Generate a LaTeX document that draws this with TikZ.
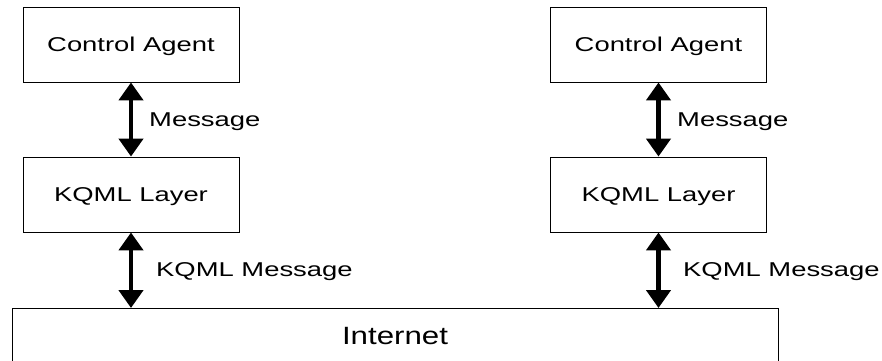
\documentclass[tikz,border=0pt]{standalone}
\usepackage{fontspec}
\usepackage{graphicx}
\setmainfont{Liberation Sans}
\usetikzlibrary{arrows.meta}
\newcommand{\smtxt}[1]{\scalebox{1.37}[1]{\fontsize{20}{21}\selectfont #1}}
\newcommand{\bigtxt}[1]{\scalebox{1.25}[1]{\fontsize{25}{26}\selectfont #1}}
\begin{document}
\begin{tikzpicture}[x=1pt,y=-1pt,
  blk/.style={draw=black, line width=0.9pt, inner sep=0pt, text depth=0pt},
  agentbox/.style={blk, minimum width=216pt, minimum height=75pt},
  lbl/.style={inner sep=0pt, anchor=base west},
  link/.style={line width=4.6pt, {Triangle[width=24pt,length=18pt]}-{Triangle[width=24pt,length=18pt]}}
]
\useasboundingbox (0,0) rectangle (882,360);
\fill[white] (0,0) rectangle (882,360);
% left column
\node[agentbox] (ca1) at (131,44.5) {\smtxt{Control Agent}};
\node[agentbox] (kq1) at (131,194.5) {\smtxt{KQML Layer}};
% right column
\node[agentbox] (ca2) at (658.5,44.5) {\smtxt{Control Agent}};
\node[agentbox] (kq2) at (658.5,194.5) {\smtxt{KQML Layer}};
% internet
\node[blk, minimum width=766pt, minimum height=55pt] (net) at (395,335.5) {\bigtxt{Internet}};
\coordinate (n1) at (131,308);
\coordinate (n2) at (658.5,308);
% connectors
\draw[link] (ca1.south) -- (kq1.north);
\draw[link] (ca2.south) -- (kq2.north);
\draw[link] (kq1.south) -- (n1);
\draw[link] (kq2.south) -- (n2);
% labels
\node[lbl] (m1) at (149,126) {\smtxt{Message}};
\node[lbl] (m2) at (677,126) {\smtxt{Message}};
\node[lbl] (k1) at (156,276.5) {\smtxt{KQML Message}};
\node[lbl] (k2) at (683,276.5) {\smtxt{KQML Message}};
\end{tikzpicture}
\end{document}
